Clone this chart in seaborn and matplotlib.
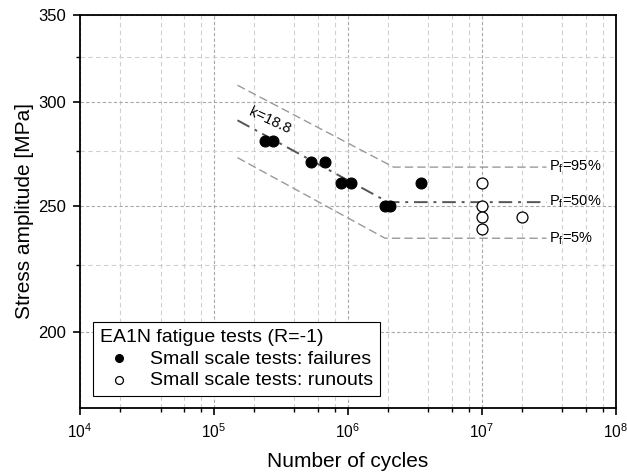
import matplotlib
matplotlib.use("Agg")
import pandas as pd
import matplotlib.pyplot as plt
import seaborn as sns
from matplotlib.ticker import FixedLocator, FixedFormatter, NullFormatter, LogLocator, LogFormatterSciNotation

# Failures (small scale tests)
fail_cycles = [2.4e5, 2.75e5, 5.3e5, 6.8e5, 8.9e5, 1.05e6, 1.9e6, 2.08e6, 3.55e6]
fail_stress = [280, 280, 270, 270, 260, 260, 250, 250, 260]

# Runouts (small scale tests)
runout_cycles = [1e7, 1e7, 1e7, 1e7, 2e7]
runout_stress = [260, 250, 245, 240, 245]

# S-N curves (endpoints of the straight segments)
p50_cycles = [1.5e5, 2.0e6, 3.05e7]
p50_stress = [290.5, 251.5, 251.5]
p95_cycles = [1.5e5, 2.2e6, 3.05e7]
p95_stress = [309, 267.5, 267.5]
p05_cycles = [1.5e5, 1.9e6, 3.05e7]
p05_stress = [272, 236, 236]

curve_labels = ["P$_\\mathregular{f}$=95%", "P$_\\mathregular{f}$=50%", "P$_\\mathregular{f}$=5%"]

fail_df = pd.DataFrame({"cycles": fail_cycles, "stress": fail_stress})
runout_df = pd.DataFrame({"cycles": runout_cycles, "stress": runout_stress})

sns.set_style("ticks")
plt.rcParams["font.family"] = ["Liberation Sans", "DejaVu Sans"]
plt.rcParams["mathtext.fontset"] = "custom"
plt.rcParams["mathtext.rm"] = "Liberation Sans"
plt.rcParams["text.color"] = "black"
plt.rcParams["axes.labelcolor"] = "black"

fig = plt.figure(figsize=(6.27, 4.74), dpi=100)
ax = fig.add_axes([0.1276, 0.1392, 0.8541, 0.8302])
ax.set_xscale("log")
ax.set_yscale("log")

# Grid
ax.set_axisbelow(True)
ax.grid(which="major", color="#a8a8a8", linestyle=(0, (3, 2)), linewidth=0.8)
ax.grid(which="minor", color="#cfcfcf", linestyle=(0, (4, 3)), linewidth=0.8)

# S-N curves
sns.lineplot(x=p95_cycles, y=p95_stress, ax=ax, color="#9a9a9a", linewidth=1.0,
             sort=False, estimator=None, legend=False, dashes=False)
ax.lines[-1].set_linestyle((0, (6, 3)))
sns.lineplot(x=p05_cycles, y=p05_stress, ax=ax, color="#9a9a9a", linewidth=1.0,
             sort=False, estimator=None, legend=False, dashes=False)
ax.lines[-1].set_linestyle((0, (6, 3)))
sns.lineplot(x=p50_cycles, y=p50_stress, ax=ax, color="#555555", linewidth=1.4,
             sort=False, estimator=None, legend=False, dashes=False)
ax.lines[-1].set_linestyle((0, (7, 3, 1.5, 3)))

# Data points
sns.scatterplot(data=fail_df, x="cycles", y="stress", ax=ax, color="black", s=62,
                edgecolor="black", linewidth=0.8, label="Small scale tests: failures", zorder=5)
sns.scatterplot(data=runout_df, x="cycles", y="stress", ax=ax, color="white", s=62,
                edgecolor="black", linewidth=0.9, label="Small scale tests: runouts", zorder=5)

# Curve labels
for lab, yv in zip(curve_labels, [p95_stress[-1], p50_stress[-1], p05_stress[-1]]):
    ax.text(3.2e7, yv, lab, ha="left", va="center", fontsize=10.5)

ax.text(2.62e5, 290.5, "k=18.8", rotation=-25, ha="center", va="center",
        rotation_mode="anchor", fontsize=10.5)

# Axes limits and ticks
ax.set_xlim(1e4, 1e8)
ax.set_ylim(175, 350)
ax.xaxis.set_major_locator(LogLocator(base=10, numticks=10))
ax.xaxis.set_major_formatter(LogFormatterSciNotation())
ax.xaxis.set_minor_locator(LogLocator(base=10, subs=[2, 4, 6, 8], numticks=20))
ax.xaxis.set_minor_formatter(NullFormatter())
ax.yaxis.set_major_locator(FixedLocator([200, 250, 300, 350]))
ax.yaxis.set_major_formatter(FixedFormatter(["200", "250", "300", "350"]))
ax.yaxis.set_minor_locator(FixedLocator([225, 275, 325]))
ax.yaxis.set_minor_formatter(NullFormatter())

ax.tick_params(which="major", direction="out", length=5, width=1.2, labelsize=12,
               colors="black", pad=5)
ax.tick_params(axis="x", which="major", labelsize=11.2)
ax.tick_params(which="minor", direction="out", length=3, width=1.0, colors="black")
for sp in ax.spines.values():
    sp.set_visible(True)
    sp.set_linewidth(1.3)
    sp.set_color("black")

ax.set_xlabel("Number of cycles", fontsize=15, labelpad=8)
ax.set_ylabel("Stress amplitude [MPa]", fontsize=15, labelpad=3)

leg = ax.legend(title="EA1N fatigue tests (R=-1)", loc="lower left",
                bbox_to_anchor=(0.024, 0.03), frameon=True, fancybox=False,
                edgecolor="black", fontsize=14, title_fontsize=14,
                alignment="left", markerscale=0.72, handletextpad=0.6,
                borderpad=0.35, labelspacing=0.22, handlelength=2.0,
                borderaxespad=0.0, framealpha=1.0)
leg.get_frame().set_linewidth(0.8)

fig.savefig("out.png", dpi=100)
